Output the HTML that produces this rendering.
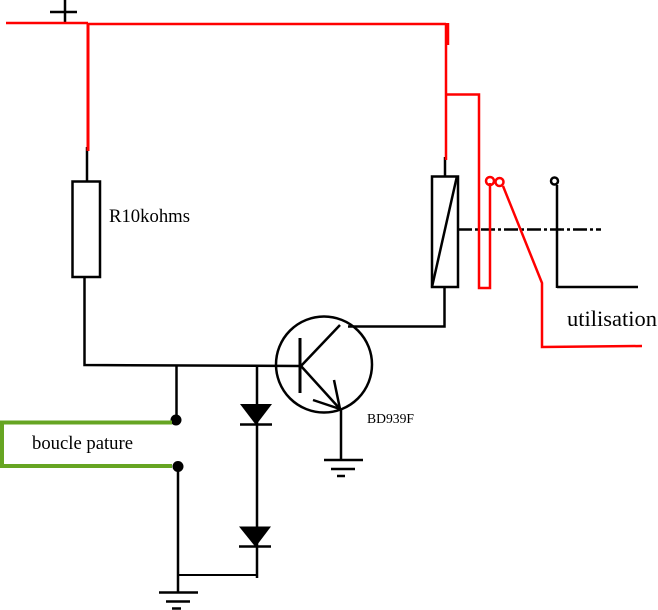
<!DOCTYPE html>
<html>
<head>
<meta charset="utf-8">
<style>
html,body{margin:0;padding:0;background:#fff;}
svg{display:block;}
text{font-family:"Liberation Serif",serif;fill:#000;}
</style>
</head>
<body>
<svg width="658" height="610" viewBox="0 0 658 610" xmlns="http://www.w3.org/2000/svg">
<g fill="none" stroke="#000" stroke-width="2.500">
  <path d="M65 0V24M50 12H77" />
  <path d="M87 147V181" />
  <rect x="72.500" y="181.500" width="27.500" height="95.500"/>
  <path d="M84.500 277V365L300 366" />
  <path d="M176.500 365V420" />
  <path d="M257 366V578" />
  <path d="M178 466V592" />
  <path d="M178 575H257" stroke-width="2"/>
  <path d="M159 592.500H198M166 601.500H190M172 608.500H181" />
  <path d="M445 157V176" />
  <rect x="432" y="176.500" width="26" height="110.500"/>
  <path d="M432 287L457 176" />
  <path d="M444.500 287V326.500H348" />
  <circle cx="324" cy="364.500" r="48"/>
  <path d="M300 338V393" stroke-width="3"/>
  <path d="M301 366L340 325" />
  <path d="M301 366L340 409" />
  <path d="M334 380L340 409L313 400" />
  <path d="M341 409V460" />
  <path d="M324 460H363M331 469H355M337 476H345" />
  <path d="M240 424.500H272M239 546.500H271" />
  <circle cx="554.500" cy="181" r="3.500"/>
  <path d="M557 185V288M557 287H638" />
  <path d="M458 229.500H601" stroke-dasharray="14 3 3 3"/>
</g>
<g fill="#000" stroke="none">
  <path d="M240 404H272L256 425Z"/>
  <path d="M239 526.500H271L255.500 547Z"/>
  <circle cx="176" cy="420" r="5.500"/>
  <circle cx="178" cy="466.500" r="5.500"/>
</g>
<path d="M172 422.500H2V466H172" fill="none" stroke="#66a522" stroke-width="4"/>
<g fill="none" stroke="#f00" stroke-width="2.500">
  <path d="M6 23H88" />
  <path d="M88 24H446" />
  <path d="M88 24V151" stroke-width="3"/>
  <path d="M446 23V160" />
  <path d="M448 23V45" />
  <path d="M446 94.500H479V288H490V183" />
  <circle cx="490" cy="181" r="4"/>
  <circle cx="499.500" cy="182" r="4"/>
  <path d="M503 186L542 283V347L642 346" />
</g>
<text x="109" y="222" font-size="18.500" textLength="81" lengthAdjust="spacingAndGlyphs">R10kohms</text>
<text x="567" y="326" font-size="22.500" textLength="90" lengthAdjust="spacingAndGlyphs">utilisation</text>
<text x="367" y="423" font-size="13.500" textLength="47" lengthAdjust="spacingAndGlyphs">BD939F</text>
<text x="32" y="449" font-size="18.500" textLength="101" lengthAdjust="spacingAndGlyphs">boucle pature</text>
</svg>
</body>
</html>
